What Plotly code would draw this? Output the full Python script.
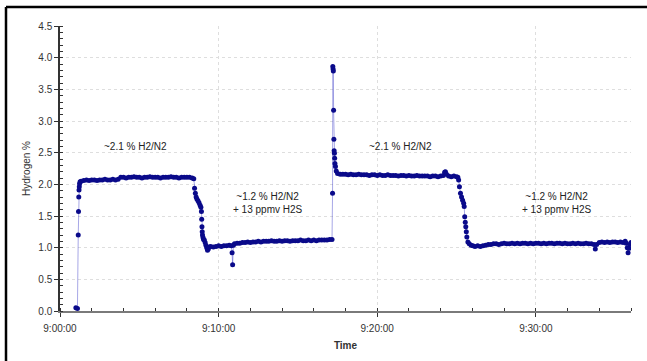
import pandas as pd
import plotly.graph_objects as go

# seconds after 9:00:00
seconds = [
    60, 66, 69, 70, 71, 72, 73, 74, 76, 80,
    90, 100, 110, 120, 130, 140, 150, 160, 170, 180, 190, 200, 210, 220,
    230, 240, 250, 260, 270, 280, 290, 300, 310, 320, 330, 340, 350, 360, 370, 380,
    390, 400, 410, 420, 430, 440, 450, 460, 470, 480, 490, 500, 506,
    509, 512, 515, 518, 522, 526, 530, 533, 535, 536, 537, 538, 539, 541, 543, 546,
    549, 552, 555, 558, 561, 565, 570, 580, 590, 600, 610, 620, 630, 640, 648,
    651, 653, 656,
    660, 670, 680, 690, 700, 710, 720, 730, 740, 750, 760, 770, 780, 790, 800, 810,
    820, 830, 840, 850, 860, 870, 880, 890, 900, 910, 920, 930, 940, 950, 960, 970,
    980, 990, 1000, 1010, 1020, 1029,
    1031, 1032, 1033, 1034, 1035, 1036, 1037, 1038, 1039, 1040, 1042, 1045, 1050,
    1060, 1070, 1080, 1090, 1100, 1110, 1120, 1130, 1140, 1150, 1160, 1170, 1180,
    1190, 1200, 1210, 1220, 1230, 1240, 1250, 1260, 1270, 1280, 1290, 1300, 1310,
    1320, 1330, 1340, 1350, 1360, 1370, 1380, 1390, 1400, 1410, 1420, 1430, 1440,
    1450, 1455, 1458, 1462, 1470, 1480, 1490, 1500, 1505,
    1508, 1511, 1515, 1519, 1523, 1527, 1529, 1531, 1533, 1535, 1537, 1539, 1543,
    1548, 1555, 1562, 1570, 1580, 1590, 1600, 1610, 1620,
    1630, 1640, 1650, 1660, 1670, 1680, 1690, 1700, 1710, 1720, 1730, 1740, 1750,
    1760, 1770, 1780, 1790, 1800, 1810, 1820, 1830, 1840, 1850, 1860, 1870, 1880,
    1890, 1900, 1910, 1920, 1930, 1940, 1950, 1960, 1970, 1980, 1990, 2000, 2010,
    2020, 2025, 2030, 2040, 2050, 2060, 2070, 2080, 2090, 2100, 2110, 2120, 2130,
    2138, 2142, 2146, 2149, 2152, 2156, 2160,
]

hydrogen = [
    0.05, 0.04, 1.20, 1.57, 1.80, 1.91, 1.96, 2.01, 2.04, 2.05,
    2.06, 2.07, 2.06, 2.07, 2.07, 2.06, 2.07, 2.07, 2.08, 2.07, 2.07, 2.08, 2.07, 2.08,
    2.11, 2.11, 2.10, 2.11, 2.11, 2.12, 2.11, 2.11, 2.10, 2.11, 2.11, 2.12, 2.11, 2.11, 2.11, 2.10,
    2.11, 2.11, 2.11, 2.12, 2.11, 2.11, 2.10, 2.11, 2.11, 2.11, 2.11, 2.10, 2.09,
    1.94, 1.86, 1.80, 1.77, 1.74, 1.71, 1.67, 1.64, 1.57, 1.45, 1.33, 1.25, 1.20, 1.16, 1.13, 1.12,
    1.08, 1.04, 1.00, 0.96, 0.98, 1.01, 1.02, 1.01, 1.02, 1.03, 1.02, 1.03, 1.03, 1.04, 1.03,
    0.92, 0.73, 1.04,
    1.06, 1.07, 1.07, 1.08, 1.08, 1.09, 1.08, 1.09, 1.09, 1.10, 1.09, 1.10, 1.10, 1.10, 1.11, 1.10,
    1.10, 1.11, 1.10, 1.11, 1.11, 1.10, 1.11, 1.11, 1.11, 1.12, 1.11, 1.11, 1.12, 1.11, 1.12, 1.11,
    1.12, 1.12, 1.12, 1.12, 1.13, 1.13,
    1.86, 3.86, 3.82, 3.79, 3.17, 2.71, 2.53, 2.49, 2.41, 2.33, 2.28, 2.21, 2.17,
    2.16, 2.16, 2.16, 2.15, 2.16, 2.15, 2.15, 2.16, 2.15, 2.15, 2.15, 2.14, 2.15,
    2.15, 2.14, 2.15, 2.14, 2.14, 2.15, 2.14, 2.14, 2.14, 2.13, 2.14, 2.14, 2.13,
    2.14, 2.13, 2.13, 2.14, 2.13, 2.13, 2.13, 2.13, 2.12, 2.13, 2.13, 2.12, 2.13,
    2.14, 2.19, 2.20, 2.16, 2.13, 2.12, 2.13, 2.12, 2.11,
    2.07, 1.96, 1.86, 1.80, 1.75, 1.70, 1.65, 1.49, 1.40, 1.33, 1.25, 1.17, 1.09,
    1.06, 1.04, 1.03, 1.02, 1.03, 1.02, 1.03, 1.04, 1.05,
    1.05, 1.06, 1.06, 1.05, 1.06, 1.07, 1.06, 1.06, 1.07, 1.06, 1.07, 1.06, 1.07,
    1.07, 1.06, 1.07, 1.06, 1.07, 1.07, 1.06, 1.07, 1.06, 1.07, 1.07, 1.06, 1.07,
    1.07, 1.06, 1.07, 1.06, 1.06, 1.07, 1.06, 1.07, 1.06, 1.06, 1.07, 1.06, 1.06,
    1.05, 0.98, 1.05, 1.08, 1.09, 1.08, 1.09, 1.08, 1.09, 1.09, 1.08, 1.09, 1.08,
    1.10, 1.07, 1.00, 0.92, 0.99, 1.05, 1.08,
]

annotation_times = ["09:04:44", "09:13:07", "09:21:27", "09:31:20"]
annotation_values = [2.6, 1.70, 2.6, 1.70]
annotation_texts = ["~2.1 % H2/N2", "~1.2 % H2/N2<br>+ 13 ppmv H2S",
                    "~2.1 % H2/N2", "~1.2 % H2/N2<br>+ 13 ppmv H2S"]

base = pd.Timestamp("2024-01-01 09:00:00")
times = base + pd.to_timedelta(seconds, unit="s")

FONT = "Liberation Sans, Arial, sans-serif"
TXT = "#333333"

fig = go.Figure()
fig.add_trace(go.Scatter(
    x=times, y=hydrogen, mode="lines+markers",
    line=dict(color="rgba(60,60,200,0.45)", width=1),
    marker=dict(color="#0a0a8a", size=5, line=dict(width=0)),
    showlegend=False,
))

for t, v, s in zip(annotation_times, annotation_values, annotation_texts):
    fig.add_annotation(x=pd.Timestamp("2024-01-01 " + t), y=v, text=s,
                       showarrow=False, font=dict(family=FONT, size=10, color="#222222"),
                       align="center")

L, R, T, B = 60, 16, 26, 50
W, H = 647, 361
pw, ph = W - L - R, H - T - B

def px_to_paper_x(px):
    return (px - L) / pw

def py_to_paper_y(py):
    return (H - B - py) / ph

# outer frame (left and top edges visible)
fig.add_shape(type="line", xref="paper", yref="paper",
              x0=px_to_paper_x(6), x1=px_to_paper_x(660), y0=py_to_paper_y(7), y1=py_to_paper_y(7),
              line=dict(color="#000000", width=2.5))
fig.add_shape(type="line", xref="paper", yref="paper",
              x0=px_to_paper_x(6), x1=px_to_paper_x(6), y0=py_to_paper_y(7), y1=py_to_paper_y(370),
              line=dict(color="#000000", width=2.5))

fig.update_layout(
    width=W, height=H,
    margin=dict(l=L, r=R, t=T, b=B, pad=0),
    paper_bgcolor="white", plot_bgcolor="white",
    font=dict(family=FONT, size=10, color=TXT),
)

fig.update_xaxes(
    range=[base, base + pd.Timedelta(minutes=36)],
    tickformat="%-H:%M:%S", dtick=600000, tick0=base,
    showgrid=True, gridcolor="#dedede", griddash="dot", gridwidth=1,
    showline=True, linecolor="#7a7a7a", linewidth=2,
    ticks="outside", ticklen=4, tickcolor="#333333", tickwidth=1,
    ticklabelstandoff=3,
    minor=dict(dtick=120000, tick0=base, ticks="inside", ticklen=3, tickcolor="#333333", showgrid=False),
    tickfont=dict(size=10, color=TXT),
    title=dict(text="<b>Time</b>", font=dict(size=10, color=TXT), standoff=9),
    zeroline=False,
)
fig.update_yaxes(
    range=[0, 4.5], dtick=0.5, tickformat=".1f",
    showgrid=True, gridcolor="#dedede", griddash="dot", gridwidth=1,
    showline=True, linecolor="#333333", linewidth=1.5,
    ticks="outside", ticklen=4, tickcolor="#333333", tickwidth=1,
    minor=dict(dtick=0.1, ticks="inside", ticklen=3, tickcolor="#333333", showgrid=False),
    tickfont=dict(size=10, color=TXT),
    title=dict(text="Hydrogen %", font=dict(size=10, color=TXT), standoff=6),
    zeroline=False,
)

fig.write_html("out.html")
